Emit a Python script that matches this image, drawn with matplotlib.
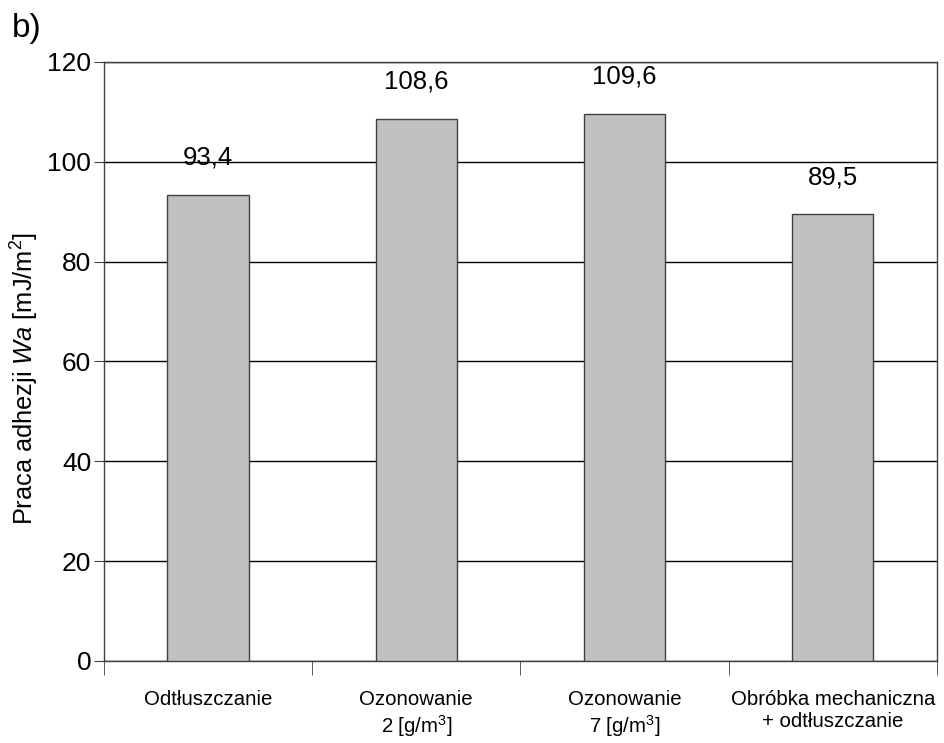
import numpy as np
import matplotlib.pyplot as plt
from matplotlib.ticker import FixedLocator

plt.rcParams['font.family'] = ['Liberation Sans', 'DejaVu Sans']
plt.rcParams['mathtext.fontset'] = 'custom'
plt.rcParams['mathtext.rm'] = 'Liberation Sans'
plt.rcParams['mathtext.it'] = 'Liberation Sans:italic'

# data
categories = ['Odtłuszczanie', 'Ozonowanie\n2 [g/m$^3$]', 'Ozonowanie\n7 [g/m$^3$]',
              'Obróbka mechaniczna\n+ odtłuszczanie']
values = [93.4, 108.6, 109.6, 89.5]
labels = ['93,4', '108,6', '109,6', '89,5']

fig = plt.figure(figsize=(9.44, 7.43), dpi=100)
ax = fig.add_axes([0.110, 0.1104, 0.8826, 0.8062])

x = np.arange(len(categories))
ax.bar(x, values, width=0.39, color='#c0c0c0', edgecolor='#404040', linewidth=1, zorder=3)

for xi, v, lab in zip(x, values, labels):
    ax.text(xi, v + 5, lab, ha='center', va='bottom', fontsize=18.5)

ax.set_xlim(-0.5, 3.5)
ax.set_ylim(0, 120)
ax.set_yticks(range(0, 121, 20))
ax.yaxis.grid(True, color='black', linewidth=1, zorder=0)
ax.tick_params(axis='y', labelsize=19, length=7, color='#404040', pad=2)

ax.set_xticks(x)
ax.set_xticklabels(categories, fontsize=14.7, linespacing=1.2)
ax.tick_params(axis='x', which='major', length=0, pad=21)
ax.xaxis.set_minor_locator(FixedLocator([-0.5, 0.5, 1.5, 2.5, 3.5]))
ax.tick_params(axis='x', which='minor', length=10, color='#404040')

for s in ax.spines.values():
    s.set_color('#404040')
    s.set_linewidth(1)

ax.set_ylabel('Praca adhezji $\\it{Wa}$ [mJ/m$^2$]', fontsize=18.3)
ax.yaxis.set_label_coords(-0.076, 0.472)

fig.text(0.013, 0.95, 'b)', fontsize=24)

fig.savefig('out.png', dpi=100)
